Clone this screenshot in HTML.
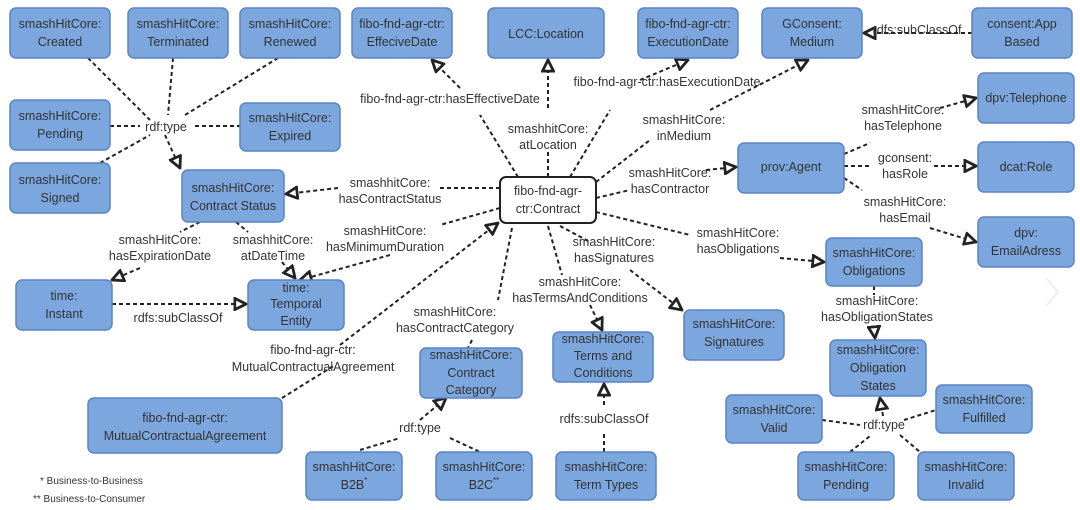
<!DOCTYPE html>
<html><head><meta charset="utf-8"><style>
body{margin:0;background:#fff;}
svg{display:block;}
text{font-family:"Liberation Sans",sans-serif;font-size:12.5px;fill:#333;text-anchor:middle;}
.b{fill:#7ca6de;stroke:#5a84c4;stroke-width:1.5;}
.l{stroke:#222;stroke-width:2;stroke-dasharray:4,3;fill:none;}
.lab{font-size:12px;}
</style></head><body>
<svg width="1080" height="510" viewBox="0 0 1080 510" xmlns="http://www.w3.org/2000/svg">
<defs><marker id="a" viewBox="0 0 10 10" refX="9" refY="5" markerWidth="7" markerHeight="7" orient="auto"><path d="M1,1 L9,5 L1,9 Z" fill="#fff" stroke="#222" stroke-width="2"/></marker></defs>

<!-- edges -->
<g class="l">
<path d="M88,58 L150,120"/><path d="M173,58 L168,115"/><path d="M278,58 L185,115"/>
<path d="M110,126 L140,126"/><path d="M195,126 L240,126"/><path d="M100,163 L150,135"/>
<path d="M165,135 L180,168" marker-end="url(#a)"/>
<path d="M500,188 L440,188"/><path d="M338,188 L286,194" marker-end="url(#a)"/>
<path d="M500,208 L440,225"/><path d="M390,255 L300,280" marker-end="url(#a)"/>
<path d="M200,222 L180,232"/><path d="M140,268 L112,280" marker-end="url(#a)"/>
<path d="M236,222 L248,232"/><path d="M282,262 L295,278" marker-end="url(#a)"/>
<path d="M112,304 L246,304" marker-end="url(#a)"/>
<path d="M518,177 L480,115"/><path d="M460,88 L432,60" marker-end="url(#a)"/>
<path d="M548,177 L548,152"/><path d="M548,108 L548,60" marker-end="url(#a)"/>
<path d="M570,177 L610,110"/><path d="M640,80 L688,60" marker-end="url(#a)"/>
<path d="M596,182 L650,140"/><path d="M710,110 L808,60" marker-end="url(#a)"/>
<path d="M596,198 L630,190"/><path d="M706,170 L736,167" marker-end="url(#a)"/>
<path d="M596,212 L690,235"/><path d="M780,258 L824,262" marker-end="url(#a)"/>
<path d="M972,33 L864,33" marker-end="url(#a)"/>
<path d="M844,154 L870,143"/><path d="M940,108 L976,98" marker-end="url(#a)"/>
<path d="M844,166 L872,166"/><path d="M934,166 L976,166" marker-end="url(#a)"/>
<path d="M844,178 L862,190"/><path d="M930,228 L976,242" marker-end="url(#a)"/>
<path d="M874,286 L874,295"/><path d="M874,328 L875,338" marker-end="url(#a)"/>
<path d="M512,228 L498,300"/><path d="M472,340 L468,348"/>
<path d="M548,226 L562,275"/><path d="M590,305 L602,330" marker-end="url(#a)"/>
<path d="M560,226 L590,242"/><path d="M630,270 L682,310" marker-end="url(#a)"/>
<path d="M282,398 L335,365"/><path d="M340,345 L498,223" marker-end="url(#a)"/>
<path d="M360,450 L400,438"/><path d="M420,420 L446,398" marker-end="url(#a)"/>
<path d="M450,438 L480,452"/>
<path d="M604,452 L604,432"/><path d="M604,405 L604,384" marker-end="url(#a)"/>
<path d="M822,420 L860,425"/><path d="M904,420 L936,410"/>
<path d="M850,452 L870,436"/><path d="M900,435 L920,452"/>
<path d="M883,416 L880,398" marker-end="url(#a)"/>
</g>

<!-- boxes -->
<g>
<rect class="b" x="10" y="8" width="100" height="50" rx="6"/>
<rect class="b" x="128" y="8" width="100" height="50" rx="6"/>
<rect class="b" x="240" y="8" width="100" height="50" rx="6"/>
<rect class="b" x="352" y="8" width="100" height="50" rx="6"/>
<rect class="b" x="488" y="8" width="116" height="50" rx="6"/>
<rect class="b" x="638" y="8" width="100" height="50" rx="6"/>
<rect class="b" x="762" y="8" width="100" height="50" rx="6"/>
<rect class="b" x="972" y="8" width="100" height="50" rx="6"/>
<rect class="b" x="10" y="100" width="100" height="50" rx="6"/>
<rect class="b" x="240" y="103" width="100" height="48" rx="6"/>
<rect class="b" x="10" y="163" width="100" height="50" rx="6"/>
<rect class="b" x="182" y="170" width="102" height="52" rx="6"/>
<rect x="500" y="177" width="96" height="46" rx="6" fill="#fff" stroke="#222" stroke-width="2"/>
<rect class="b" x="738" y="143" width="106" height="50" rx="6"/>
<rect class="b" x="978" y="73" width="96" height="50" rx="6"/>
<rect class="b" x="978" y="142" width="96" height="50" rx="6"/>
<rect class="b" x="978" y="217" width="96" height="50" rx="6"/>
<rect class="b" x="826" y="238" width="96" height="48" rx="6"/>
<rect class="b" x="16" y="280" width="96" height="50" rx="6"/>
<rect class="b" x="248" y="280" width="96" height="50" rx="6"/>
<rect class="b" x="88" y="398" width="194" height="55" rx="6"/>
<rect class="b" x="420" y="348" width="102" height="50" rx="6"/>
<rect class="b" x="553" y="332" width="100" height="50" rx="6"/>
<rect class="b" x="684" y="310" width="100" height="50" rx="6"/>
<rect class="b" x="830" y="340" width="96" height="56" rx="6"/>
<rect class="b" x="726" y="395" width="96" height="48" rx="6"/>
<rect class="b" x="936" y="385" width="96" height="48" rx="6"/>
<rect class="b" x="798" y="452" width="96" height="48" rx="6"/>
<rect class="b" x="918" y="452" width="96" height="48" rx="6"/>
<rect class="b" x="306" y="452" width="96" height="48" rx="6"/>
<rect class="b" x="436" y="452" width="96" height="48" rx="6"/>
<rect class="b" x="556" y="452" width="100" height="48" rx="6"/>
</g>

<!-- box text -->
<text x="60" y="28">smashHitCore:</text><text x="60" y="46">Created</text>
<text x="178" y="28">smashHitCore:</text><text x="178" y="46">Terminated</text>
<text x="290" y="28">smashHitCore:</text><text x="290" y="46">Renewed</text>
<text x="402" y="28">fibo-fnd-agr-ctr:</text><text x="402" y="46">EffeciveDate</text>
<text x="546" y="38">LCC:Location</text>
<text x="688" y="28">fibo-fnd-agr-ctr:</text><text x="688" y="46">ExecutionDate</text>
<text x="812" y="28">GConsent:</text><text x="812" y="46">Medium</text>
<text x="1022" y="28">consent:App</text><text x="1022" y="46">Based</text>
<text x="60" y="120">smashHitCore:</text><text x="60" y="138">Pending</text>
<text x="290" y="122">smashHitCore:</text><text x="290" y="140">Expired</text>
<text x="60" y="184">smashHitCore:</text><text x="60" y="202">Signed</text>
<text x="233" y="192">smashHitCore:</text><text x="233" y="210">Contract Status</text>
<text x="548" y="195">fibo-fnd-agr-</text><text x="548" y="213">ctr:Contract</text>
<text x="791" y="171">prov:Agent</text>
<text x="1026" y="102">dpv:Telephone</text>
<text x="1026" y="171">dcat:Role</text>
<text x="1026" y="237">dpv:</text><text x="1026" y="255">EmailAdress</text>
<text x="874" y="257">smashHitCore:</text><text x="874" y="275">Obligations</text>
<text x="64" y="300">time:</text><text x="64" y="318">Instant</text>
<text x="296" y="292">time:</text><text x="296" y="308">Temporal</text><text x="296" y="325">Entity</text>
<text x="185" y="422">fibo-fnd-agr-ctr:</text><text x="185" y="440">MutualContractualAgreement</text>
<text x="471" y="359">smashHitCore:</text><text x="471" y="377">Contract</text><text x="471" y="394">Category</text>
<text x="603" y="343">smashHitCore:</text><text x="603" y="360">Terms and</text><text x="603" y="377">Conditions</text>
<text x="734" y="328">smashHitCore:</text><text x="734" y="346">Signatures</text>
<text x="878" y="354">smashHitCore:</text><text x="878" y="372">Obligation</text><text x="878" y="390">States</text>
<text x="774" y="414">smashHitCore:</text><text x="774" y="432">Valid</text>
<text x="984" y="404">smashHitCore:</text><text x="984" y="422">Fulfilled</text>
<text x="846" y="471">smashHitCore:</text><text x="846" y="489">Pending</text>
<text x="966" y="471">smashHitCore:</text><text x="966" y="489">Invalid</text>
<text x="354" y="471">smashHitCore:</text><text x="354" y="489">B2B<tspan font-size="8" dy="-6">*</tspan></text>
<text x="484" y="471">smashHitCore:</text><text x="484" y="489">B2C<tspan font-size="8" dy="-6">**</tspan></text>
<text x="606" y="471">smashHitCore:</text><text x="606" y="489">Term Types</text>

<!-- edge labels -->
<g class="lab">
<text x="166" y="131">rdf:type</text>
<text x="390" y="187">smashhitCore:</text><text x="390" y="203">hasContractStatus</text>
<text x="385" y="235">smashHitCore:</text><text x="385" y="251">hasMinimumDuration</text>
<text x="160" y="244">smashHitCore:</text><text x="160" y="260">hasExpirationDate</text>
<text x="273" y="244">smashhitCore:</text><text x="273" y="260">atDateTime</text>
<text x="178" y="322">rdfs:subClassOf</text>
<text x="450" y="103">fibo-fnd-agr-ctr:hasEffectiveDate</text>
<text x="548" y="133">smashhitCore:</text><text x="548" y="149">atLocation</text>
<text x="667" y="86">fibo-fnd-agr-ctr:hasExecutionDate</text>
<text x="684" y="124">smashHitCore:</text><text x="684" y="140">inMedium</text>
<text x="670" y="177">smashHitCore:</text><text x="670" y="193">hasContractor</text>
<text x="917" y="34">rdfs:subClassOf</text>
<text x="903" y="114">smashHitCore:</text><text x="903" y="130">hasTelephone</text>
<text x="905" y="162">gconsent:</text><text x="905" y="178">hasRole</text>
<text x="905" y="206">smashHitCore:</text><text x="905" y="222">hasEmail</text>
<text x="738" y="237">smashHitCore:</text><text x="738" y="253">hasObligations</text>
<text x="614" y="246">smashHitCore:</text><text x="614" y="262">hasSignatures</text>
<text x="580" y="286">smashHitCore:</text><text x="580" y="302">hasTermsAndConditions</text>
<text x="877" y="305">smashHitCore:</text><text x="877" y="321">hasObligationStates</text>
<text x="455" y="316">smashHitCore:</text><text x="455" y="332">hasContractCategory</text>
<text x="313" y="354">fibo-fnd-agr-ctr:</text><text x="313" y="371">MutualContractualAgreement</text>
<text x="420" y="432">rdf:type</text>
<text x="604" y="423">rdfs:subClassOf</text>
<text x="884" y="429">rdf:type</text>
</g>
<text x="40" y="484" style="font-size:10px;text-anchor:start">* Business-to-Business</text>
<text x="33" y="502" style="font-size:10px;text-anchor:start">** Business-to-Consumer</text>
<path d="M1046,278 L1058,292 L1046,306" fill="none" stroke="#eee" stroke-width="2"/>
</svg>
</body></html>
